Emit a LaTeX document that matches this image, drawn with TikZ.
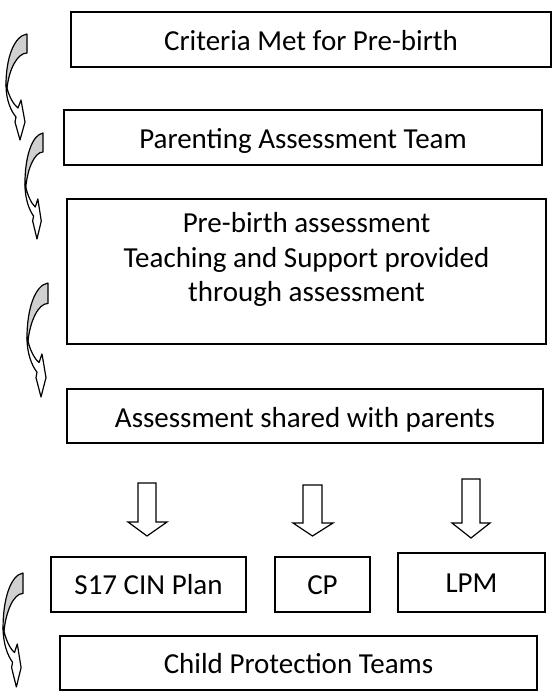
\documentclass[tikz,border=0pt]{standalone}
\usepackage{fontspec}
\setmainfont{Carlito}
\definecolor{backgray}{RGB}{208,208,208}
\tikzset{
  box/.style={draw=black, line width=1.6pt, inner sep=0pt, fill=white},
  txt/.style={anchor=base, inner sep=0pt, font=\fontsize{29}{35}\selectfont},
  blockarrow/.style={draw=black, line width=1.2pt, fill=white, line join=miter},
  carrow/.pic={
    \path[draw=black, line width=1.2pt, fill=white, line join=round]
      (-21,51) .. controls (-21,66) and (-16,77) .. (-11,83)
      -- (-12,88) -- (-7,106) -- (-2,88) -- (-6,66) -- (-9,74)
      .. controls (-14,70) and (-18,62) .. (-20,54) -- cycle;
    \path[draw=black, line width=1.2pt, fill=backgray, line join=round]
      (0,0) .. controls (-13,2) and (-21,24) .. (-21,51)
      -- (-20,54) .. controls (-18,36) and (-10,19) .. (0,19) -- cycle;
  }
}
\begin{document}
\begin{tikzpicture}[x=1pt,y=-1pt]
\useasboundingbox (0,0) rectangle (558,697);
% boxes
\node[box, minimum width=480pt, minimum height=55pt] (b1) at (311,39.5) {};
\node[box, minimum width=478pt, minimum height=55pt] (b2) at (303,137.5) {};
\node[box, minimum width=479pt, minimum height=145pt] (b3) at (306.5,271.5) {};
\node[box, minimum width=476pt, minimum height=54pt] (b4) at (305,416) {};
\node[box, minimum width=195pt, minimum height=55pt] (b5) at (148.5,584.5) {};
\node[box, minimum width=95pt, minimum height=55pt] (b6) at (322.5,584.5) {};
\node[box, minimum width=147pt, minimum height=59pt] (b7) at (471.5,582.5) {};
\node[box, minimum width=477pt, minimum height=54pt] (b8) at (298.5,663) {};
% texts
\node[txt] (t1) at (311,50) {Criteria Met for Pre-birth};
\node[txt] (t2) at (303,148) {Parenting Assessment Team};
\node[txt] (t3a) at (306.5,232) {Pre-birth assessment};
\node[txt] (t3b) at (306.5,267) {Teaching and Support provided};
\node[txt] (t3c) at (306.5,301) {through assessment};
\node[txt] (t4) at (305,427) {Assessment shared with parents};
\node[txt] (t5) at (148.5,594.5) {S17 CIN Plan};
\node[txt] (t6) at (322.5,594.5) {CP};
\node[txt] (t7) at (471.5,592.5) {LPM};
\node[txt] (t8) at (298.5,673) {Child Protection Teams};
% block down arrows
\draw[blockarrow] (138,483) -- (156,483) -- (156,522) -- (167,522) -- (147,536) -- (128,522) -- (138,522) -- cycle;
\draw[blockarrow] (303,485) -- (322,485) -- (322,523) -- (333,523) -- (312.5,536) -- (293,523) -- (303,523) -- cycle;
\draw[blockarrow] (462,479) -- (480,479) -- (480,523) -- (490,523) -- (471,538) -- (452,523) -- (462,523) -- cycle;
% curved arrows
\pic at (27,34) {carrow};
\pic[xscale=0.86] at (43,133) {carrow};
\pic[yscale=1.075] at (48,283) {carrow};
\pic[xscale=0.95, yscale=1.075] at (23,573) {carrow};
\end{tikzpicture}
\end{document}
